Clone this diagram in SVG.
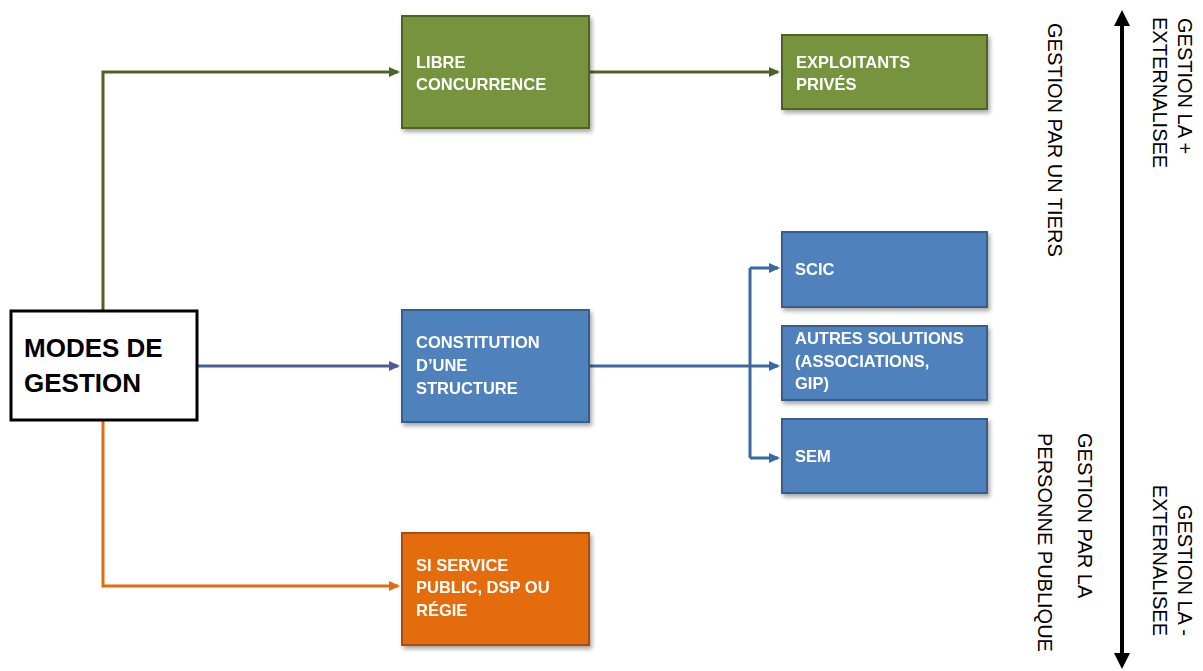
<svg xmlns="http://www.w3.org/2000/svg" width="1203" height="671" viewBox="0 0 1203 671">
<defs>
<filter id="sh" x="-10%" y="-10%" width="125%" height="130%">
<feDropShadow dx="2" dy="3" stdDeviation="2" flood-color="#000" flood-opacity="0.35"/>
</filter>
<marker id="ag" markerWidth="12" markerHeight="12" refX="9" refY="6" orient="auto" markerUnits="userSpaceOnUse"><path d="M0,1 L11,6 L0,11 Z" fill="#4F6228"/></marker>
<marker id="ab" markerWidth="12" markerHeight="12" refX="9" refY="6" orient="auto" markerUnits="userSpaceOnUse"><path d="M0,1 L11,6 L0,11 Z" fill="#3A68A3"/></marker>
<marker id="ap" markerWidth="12" markerHeight="12" refX="9" refY="6" orient="auto" markerUnits="userSpaceOnUse"><path d="M0,1 L11,6 L0,11 Z" fill="#4A5C98"/></marker>
<marker id="ao" markerWidth="12" markerHeight="12" refX="9" refY="6" orient="auto" markerUnits="userSpaceOnUse"><path d="M0,1 L11,6 L0,11 Z" fill="#E46C0A"/></marker>
<marker id="ak" markerWidth="16" markerHeight="16" refX="3" refY="8" orient="auto-start-reverse" markerUnits="userSpaceOnUse"><path d="M0,0 L16,8 L0,16 Z" fill="#000"/></marker>
</defs>
<style>
.bt{font-family:"Liberation Sans",Arial,sans-serif;font-weight:bold;font-size:16.5px;fill:#fff}
.mt{font-family:"Liberation Sans",Arial,sans-serif;font-weight:bold;font-size:26px;fill:#000}
.rt{font-family:"Liberation Sans",Arial,sans-serif;font-size:20px;fill:#000}
.green{fill:#77933C;stroke:#4F6228;stroke-width:2}
.blue{fill:#4F81BD;stroke:#385D8A;stroke-width:2}
.orange{fill:#E46C0A;stroke:#A8500A;stroke-width:2}
.c{fill:none;stroke-width:3}
</style>
<rect width="1203" height="671" fill="#fff"/>
<g id="connectors">
<path class="c" d="M103,310 V72 H398" stroke="#4F6228" marker-end="url(#ag)"/>
<path class="c" d="M590,72 H778" stroke="#4F6228" marker-end="url(#ag)"/>
<path class="c" d="M197,366 H398" stroke="#4A5C98" marker-end="url(#ap)"/>
<path class="c" d="M103,421 V586 H398" stroke="#E46C0A" marker-end="url(#ao)"/>
<path class="c" d="M590,366 H778" stroke="#3A68A3" marker-end="url(#ab)"/>
<path class="c" d="M750,268 V458" stroke="#3A68A3" stroke-width="3.5"/>
<path class="c" d="M750,268 H778" stroke="#3A68A3" marker-end="url(#ab)"/>
<path class="c" d="M750,458 H778" stroke="#3A68A3" marker-end="url(#ab)"/>
<path d="M1122,23 V656" stroke="#000" stroke-width="4" fill="none" marker-start="url(#ak)" marker-end="url(#ak)"/>
</g>
<g id="modes">
<rect x="11" y="311" width="186" height="109" fill="#fff" stroke="#000" stroke-width="3"/>
<text class="mt" x="24" y="357">MODES DE</text>
<text class="mt" x="24" y="392">GESTION</text>
</g>
<g id="libre" filter="url(#sh)">
<rect class="green" x="402" y="16" width="187" height="112"/>
<text class="bt" x="416" y="68">LIBRE</text>
<text class="bt" x="416" y="90">CONCURRENCE</text>
</g>
<g id="exploitants" filter="url(#sh)">
<rect class="green" x="782" y="35" width="205" height="74"/>
<text class="bt" x="796" y="68">EXPLOITANTS</text>
<text class="bt" x="796" y="90">PRIVÉS</text>
</g>
<g id="constitution" filter="url(#sh)">
<rect class="blue" x="402" y="310" width="187" height="112"/>
<text class="bt" x="416" y="348">CONSTITUTION</text>
<text class="bt" x="416" y="371">D’UNE</text>
<text class="bt" x="416" y="394">STRUCTURE</text>
</g>
<g id="scic" filter="url(#sh)">
<rect class="blue" x="782" y="232" width="205" height="75"/>
<text class="bt" x="795" y="275">SCIC</text>
</g>
<g id="autres" filter="url(#sh)">
<rect class="blue" x="782" y="326" width="205" height="74"/>
<text class="bt" x="795" y="344">AUTRES SOLUTIONS</text>
<text class="bt" x="795" y="367">(ASSOCIATIONS,</text>
<text class="bt" x="795" y="389">GIP)</text>
</g>
<g id="sem" filter="url(#sh)">
<rect class="blue" x="782" y="419" width="205" height="74"/>
<text class="bt" x="795" y="462">SEM</text>
</g>
<g id="service" filter="url(#sh)">
<rect class="orange" x="402" y="533" width="187" height="112"/>
<text class="bt" x="416" y="571">SI SERVICE</text>
<text class="bt" x="416" y="593">PUBLIC, DSP OU</text>
<text class="bt" x="416" y="616">RÉGIE</text>
</g>
<g id="labels">
<text class="rt" transform="translate(1178,18) rotate(90)">GESTION LA +</text>
<text class="rt" transform="translate(1153,17) rotate(90)">EXTERNALISEE</text>
<text class="rt" transform="translate(1048,23) rotate(90)">GESTION PAR UN TIERS</text>
<text class="rt" transform="translate(1078,433) rotate(90)">GESTION PAR LA</text>
<text class="rt" transform="translate(1038,433) rotate(90)">PERSONNE PUBLIQUE</text>
<text class="rt" transform="translate(1178,636) rotate(90)" text-anchor="end">GESTION LA -</text>
<text class="rt" transform="translate(1153,636) rotate(90)" text-anchor="end">EXTERNALISEE</text>
</g>
</svg>
